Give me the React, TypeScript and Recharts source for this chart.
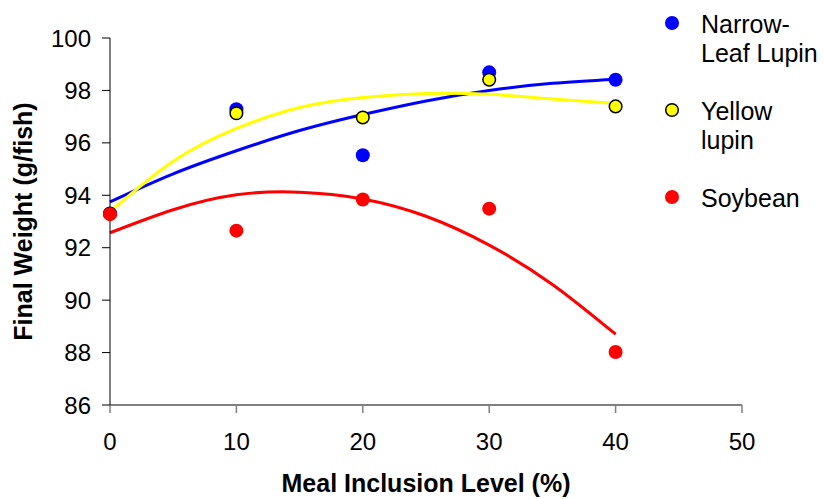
import React from "react";
import { ComposedChart, Scatter, Line, XAxis, YAxis, Legend, Label } from "recharts";

// measured points (meal inclusion level %, final weight g/fish)
const levels = [0, 10, 20, 30, 40];
const narrowLeaf = [93.3, 97.28, 95.53, 98.69, 98.41];
const yellowLupin = [93.3, 97.13, 96.97, 98.41, 97.39];
const soybean = [93.28, 92.65, 93.84, 93.49, 88.02];

// trend lines
const trendLevels = [0, 5, 10, 15, 20, 25, 30, 35, 40];
const narrowLeafTrend = [93.75, 94.82, 95.7, 96.47, 97.08, 97.6, 98.0, 98.27, 98.43];
const yellowLupinTrend = [93.37, 95.3, 96.55, 97.35, 97.73, 97.88, 97.85, 97.67, 97.5];
const soybeanTrend = [92.57, 93.45, 94.02, 94.12, 93.86, 93.2, 92.1, 90.6, 88.7];

const xTicks = [0, 10, 20, 30, 40, 50];
const yTicks = [86, 88, 90, 92, 94, 96, 98, 100];

const toPoints = (xs: number[], ys: number[]) => xs.map((x, i) => ({ x, y: ys[i] }));

const series = [
  { name: "Narrow-Leaf Lupin", legend: ["Narrow-", "Leaf Lupin"], color: "#0000FF", outline: "none", points: narrowLeaf, trend: narrowLeafTrend },
  { name: "Yellow lupin", legend: ["Yellow", "lupin"], color: "#FFFF00", outline: "#000000", points: yellowLupin, trend: yellowLupinTrend },
  { name: "Soybean", legend: ["Soybean"], color: "#FF0000", outline: "none", points: soybean, trend: soybeanTrend },
];

const font = "'Liberation Sans', Arial, Helvetica, sans-serif";

const renderLegend = () => (
  <div style={{ fontSize: 25, lineHeight: "29px", color: "#000" }}>
    {series.map((s) => (
      <div key={s.name} style={{ display: "flex", marginBottom: 29 }}>
        <svg width={24} height={29} style={{ flex: "none" }}>
          <circle cx={12} cy={13} r={s.outline === "none" ? 7 : 6.3} fill={s.color} stroke={s.outline} strokeWidth={1.5} />
        </svg>
        <div style={{ marginLeft: 17, whiteSpace: "nowrap" }}>
          {s.legend.map((l) => (
            <div key={l}>{l}</div>
          ))}
        </div>
      </div>
    ))}
  </div>
);

export default function App() {
  return (
    <div style={{ position: "absolute", left: 0, top: 0, width: 824, height: 499, background: "#fff", fontFamily: font }}>
      <ComposedChart width={824} height={499} margin={{ top: 38, right: 82, bottom: 64, left: 50 }}>
        <XAxis
          dataKey="x"
          type="number"
          domain={[0, 50]}
          ticks={xTicks}
          height={30}
          axisLine={{ stroke: "#808080", strokeWidth: 2 }}
          tickLine={{ stroke: "#808080", strokeWidth: 1.5 }}
          tickSize={8}
          tickMargin={20}
          tick={{ fill: "#000", fontSize: 24 }}
        >
          <Label
            content={({ viewBox }: any) => (
              <text x={viewBox.x + viewBox.width / 2} y={492} textAnchor="middle" fontSize={25} fontWeight="bold" fill="#000">
                Meal Inclusion Level (%)
              </text>
            )}
          />
        </XAxis>
        <YAxis
          dataKey="y"
          type="number"
          domain={[86, 100]}
          ticks={yTicks}
          width={60}
          axisLine={{ stroke: "#000" }}
          tickLine={{ stroke: "#000" }}
          tickSize={8}
          tickMargin={11}
          tick={{ fill: "#000", fontSize: 24 }}
        >
          <Label
            content={({ viewBox }: any) => {
              const cx = 23;
              const cy = viewBox.y + viewBox.height / 2;
              return (
                <text x={cx} y={cy} dy="0.355em" transform={`rotate(-90 ${cx} ${cy})`} textAnchor="middle" fontSize={25} fontWeight="bold" fill="#000">
                  Final Weight (g/fish)
                </text>
              );
            }}
          />
        </YAxis>
        <Legend content={renderLegend} layout="horizontal" verticalAlign="middle" align="center" wrapperStyle={{ left: 660, top: 10, width: 164 }} />
        {series.map((s) => (
          <Line
            key={s.name + "-trend"}
            data={toPoints(trendLevels, s.trend)}
            dataKey="y"
            type="natural"
            stroke={s.color}
            strokeWidth={3}
            dot={false}
            activeDot={false}
            legendType="none"
            isAnimationActive={false}
          />
        ))}
        {series.map((s) => (
          <Scatter
            key={s.name}
            name={s.name}
            data={toPoints(levels, s.points)}
            dataKey="y"
            fill={s.color}
            isAnimationActive={false}
            shape={(p: any) => (
              <circle cx={p.cx} cy={p.cy} r={s.outline === "none" ? 7 : 6.3} fill={s.color} stroke={s.outline} strokeWidth={1.5} />
            )}
          />
        ))}
      </ComposedChart>
    </div>
  );
}
